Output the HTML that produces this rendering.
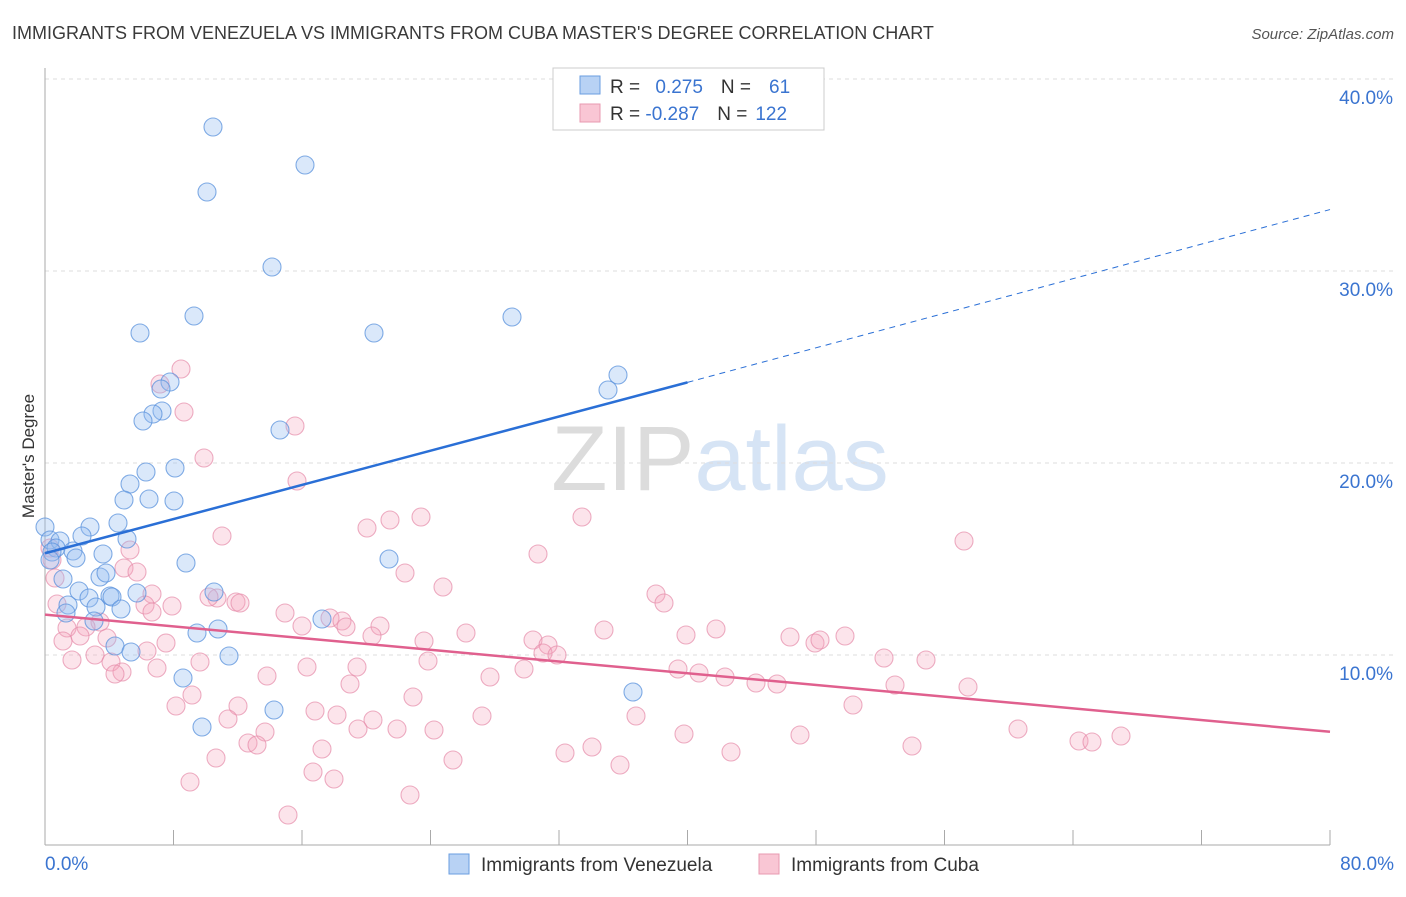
<!DOCTYPE html>
<html><head><meta charset="utf-8"><style>
body{margin:0;background:#fff;font-family:"Liberation Sans",sans-serif;}
svg text{font-family:"Liberation Sans",sans-serif;}
</style></head><body>
<svg id="chart" width="1406" height="892" xmlns="http://www.w3.org/2000/svg">
<text x="12" y="39" font-size="18" fill="#3a3a3a">IMMIGRANTS FROM VENEZUELA VS IMMIGRANTS FROM CUBA MASTER'S DEGREE CORRELATION CHART</text>
<text x="1394" y="39" font-size="15" fill="#555" text-anchor="end" font-style="italic">Source: ZipAtlas.com</text>
<text x="720" y="490" font-size="92" text-anchor="middle" fill="#e4e4e4" font-family="Liberation Serif"><tspan fill="#dcdcdc">ZIP</tspan><tspan fill="#d6e4f5" font-family="Liberation Sans">atlas</tspan></text>
<text transform="translate(34,456) rotate(-90)" font-size="17" fill="#333" text-anchor="middle">Master's Degree</text>
<g id="grid"></g><g id="axes"></g><g id="pts"></g><g id="lines"></g>
<g>
<rect x="553" y="68" width="271" height="62" fill="#fff" stroke="#ccc"/>
<rect x="580" y="76" width="20" height="18" fill="#b8d2f4" stroke="#6a9ee0"/>
<rect x="580" y="104" width="20" height="18" fill="#f9c6d4" stroke="#e89ab0"/>
<text x="610" y="93" font-size="19" fill="#333">R = <tspan fill="#3a74d0" dx="10">0.275</tspan><tspan dx="18">N =</tspan><tspan fill="#3a74d0" dx="18">61</tspan></text>
<text x="610" y="120" font-size="19" fill="#333">R = <tspan fill="#3a74d0">-0.287</tspan><tspan dx="18">N =</tspan><tspan fill="#3a74d0" dx="8">122</tspan></text>
</g>
<g>
<rect x="449" y="854" width="20" height="20" fill="#b8d2f4" stroke="#6a9ee0"/>
<text x="481" y="871" font-size="19" fill="#333">Immigrants from Venezuela</text>
<rect x="759" y="854" width="20" height="20" fill="#f9c6d4" stroke="#e89ab0"/>
<text x="791" y="871" font-size="19" fill="#333">Immigrants from Cuba</text>
</g>
</svg>
<script>
const blueX=[213,305,207,272,140,194,374,512,618,608,170,161,162,153,143,280,175,146,130,124,149,174,118,90,82,127,45,50,60,56,52,73,76,103,50,186,389,63,100,106,110,79,89,112,137,214,68,96,121,66,94,322,218,197,115,131,229,183,633,274,202];
const blueY=[127,165,192,267,333,316,333,317,375,390,382,389,411,414,421,430,468,472,484,500,499,501,523,527,536,539,527,540,541,548,552,551,558,554,560,563,559,579,577,573,596,591,598,597,593,592,605,607,609,613,621,619,629,633,646,652,656,678,692,710,727];
const pinkX=[181,160,184,295,204,297,421,390,367,582,222,538,130,964,50,52,55,124,137,405,443,217,209,236,240,152,172,145,57,100,86,67,63,80,107,166,285,302,330,342,346,380,372,424,466,533,548,543,557,604,656,664,686,716,790,815,820,845,95,72,111,122,115,157,200,267,307,357,428,490,524,678,699,725,756,777,884,926,895,968,350,192,413,176,238,315,337,373,228,853,482,636,684,265,358,397,434,248,257,322,565,592,731,800,912,1018,1079,1092,1121,216,453,620,313,334,190,410,288,147,152];
const pinkY=[369,384,412,426,458,481,517,520,528,517,536,554,550,541,548,560,578,568,572,573,587,598,597,602,603,594,606,605,604,622,627,628,641,636,638,643,613,626,618,621,627,626,636,641,633,640,645,653,655,630,594,603,635,629,637,643,640,636,655,660,662,672,674,668,662,676,667,667,661,677,669,669,673,677,683,684,658,660,685,687,684,695,697,706,706,711,715,720,719,705,716,716,734,732,729,729,730,743,745,749,753,747,752,735,746,729,741,742,736,758,760,765,772,779,782,795,815,651,612];
const toX=p=>(p-45)/1285*80, toY=p=>(847-p)/19.2;
const blueXv=blueX.map(toX), blueYv=blueY.map(toY), pinkXv=pinkX.map(toX), pinkYv=pinkY.map(toY);
const xTicks=[0,8,16,24,32,40,48,56,64,72,80];
const yTicks=[10,20,30,40];
const blueLine=[[0,15.3],[40,24.2],[80,33.2]];
const pinkLine=[[0,12.1],[80,6.0]];
const sx=v=>45+v/80*1285, sy=v=>847-v*19.2;
const NS="http://www.w3.org/2000/svg";
function mk(tag,attrs,parent){const e=document.createElementNS(NS,tag);for(const k in attrs)e.setAttribute(k,attrs[k]);document.getElementById(parent).appendChild(e);return e;}
yTicks.forEach(t=>{
 const g=mk('line',{x1:45,x2:1394,y1:sy(t),y2:sy(t),stroke:'#ddd','stroke-dasharray':'4,4'},'grid');
 
 
 const l=mk('text',{x:1393,y:sy(t)+25,'font-size':19,fill:'#3a74d0','text-anchor':'end'},'grid');
 l.textContent=t.toFixed(1)+'%';
 
 
});
mk('line',{x1:45,x2:45,y1:68,y2:845,stroke:'#aaa'},'axes');
mk('line',{x1:45,x2:1330,y1:845,y2:845,stroke:'#aaa'},'axes');
xTicks.forEach(t=>{
 const k=mk('line',{x1:sx(t),x2:sx(t),y1:830,y2:845,stroke:'#aaa'},'axes');
 
 
});
const x0=mk('text',{x:45,y:870,'font-size':19,fill:'#3a74d0'},'axes');x0.textContent='0.0%';


const x1=mk('text',{x:1394,y:870,'font-size':19,fill:'#3a74d0','text-anchor':'end'},'axes');x1.textContent='80.0%';


pinkXv.forEach((v,i)=>{
 const c=mk('circle',{cx:sx(v),cy:sy(pinkYv[i]),r:9,fill:'rgba(245,165,190,0.3)',stroke:'rgba(230,140,170,0.7)','stroke-width':1.1},'pts');
 
 
});
blueXv.forEach((v,i)=>{
 const c=mk('circle',{cx:sx(v),cy:sy(blueYv[i]),r:9,fill:'rgba(150,190,240,0.35)',stroke:'rgba(90,145,220,0.75)','stroke-width':1.1},'pts');
 
 
});
const b1=mk('line',{x1:sx(blueLine[0][0]),y1:sy(blueLine[0][1]),x2:sx(blueLine[1][0]),y2:sy(blueLine[1][1]),stroke:'#2a6fd6','stroke-width':2.5},'lines');


const b2=mk('line',{x1:sx(blueLine[1][0]),y1:sy(blueLine[1][1]),x2:sx(blueLine[2][0]),y2:sy(blueLine[2][1]),stroke:'#2a6fd6','stroke-width':1,'stroke-dasharray':'6,5'},'lines');


const p1=mk('line',{x1:sx(pinkLine[0][0]),y1:sy(pinkLine[0][1]),x2:sx(pinkLine[1][0]),y2:sy(pinkLine[1][1]),stroke:'#e0608e','stroke-width':2.5},'lines');


</script>
</body></html>
